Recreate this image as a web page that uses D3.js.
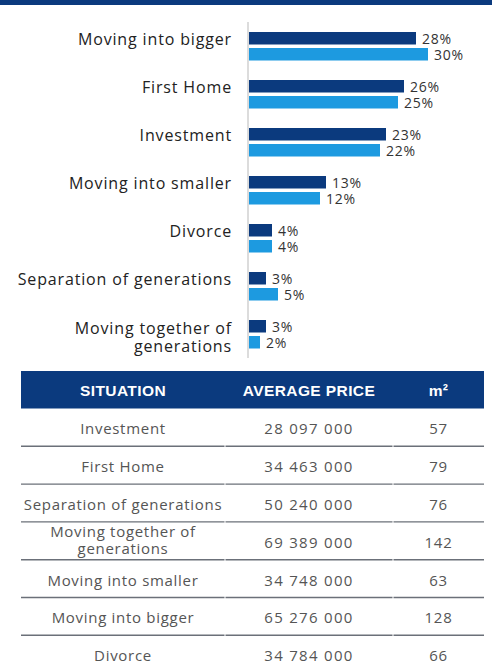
<!DOCTYPE html>
<html>
<head>
<meta charset="utf-8">
<script src="https://cdn.jsdelivr.net/npm/d3@7"></script>
<style>
  html, body { margin: 0; padding: 0; background: #fff; }
  svg { display: block; }
</style>
</head>
<body>
<svg id="chart" width="492" height="661"></svg>
<script>
// Reasons for buying a home: share of buyers, two survey periods
const categories = [
  "Moving into bigger",
  "First Home",
  "Investment",
  "Moving into smaller",
  "Divorce",
  "Separation of generations",
  "Moving together of generations"
];
const seriesNames = ["previous", "current"];
const previousShare = [28, 26, 23, 13, 4, 3, 3];
const currentShare  = [30, 25, 22, 12, 4, 5, 2];

// Table: average price and floor area by buying situation
const tableHeaders = ["SITUATION", "AVERAGE PRICE", "m²"];
const situations = [
  "Investment",
  "First Home",
  "Separation of generations",
  "Moving together of generations",
  "Moving into smaller",
  "Moving into bigger",
  "Divorce"
];
const averagePrices = [28097000, 34463000, 50240000, 69389000, 34748000, 65276000, 34784000];
const areas = [57, 79, 76, 142, 63, 128, 66];

const DARK = "#0b3a7e";
const LIGHT = "#1d9ae0";
const FONT = "'Open Sans', 'DejaVu Sans', sans-serif";

// Some labels are split over two lines
const lineBreaks = {
  "Moving together of generations": ["Moving together of", "generations"]
};

const svg = d3.select("#chart");

// Top brand strip
svg.append("rect")
  .attr("x", 0).attr("y", 0)
  .attr("width", 492).attr("height", 5)
  .attr("fill", DARK);

// ---------- Grouped bar chart ----------
const x = d3.scaleLinear().domain([0, 30]).range([248, 428]);
const y = d3.scaleBand().domain(categories).range([32, 32 + 48 * categories.length]).paddingInner(0);
const ySub = d3.scaleBand().domain(seriesNames).range([0, 28.5]).paddingInner(0.21875);

const rows = categories.map((c, i) => ({
  category: c,
  values: [
    { key: "previous", value: previousShare[i], color: DARK },
    { key: "current", value: currentShare[i], color: LIGHT }
  ]
}));

// Baseline axis
svg.append("line")
  .attr("x1", x(0)).attr("x2", x(0))
  .attr("y1", 22).attr("y2", 358)
  .attr("stroke", "#d0d0d0")
  .attr("stroke-width", 1.5);

const groups = svg.append("g").selectAll("g")
  .data(rows)
  .join("g")
  .attr("transform", d => `translate(0,${y(d.category)})`);

groups.selectAll("rect")
  .data(d => d.values)
  .join("rect")
  .attr("x", x(0) + 1)
  .attr("y", d => ySub(d.key))
  .attr("width", d => x(d.value) - x(0) - 1)
  .attr("height", ySub.bandwidth())
  .attr("fill", d => d.color);

groups.selectAll("text.value")
  .data(d => d.values)
  .join("text")
  .attr("class", "value")
  .attr("x", d => x(d.value) + 6)
  .attr("y", d => ySub(d.key) + ySub.bandwidth() / 2 + 5.5)
  .attr("font-family", FONT)
  .attr("font-size", 14)
  .attr("letter-spacing", 0.8)
  .attr("fill", "#333")
  .text(d => d.value + "%");

// Category labels
groups.each(function (d) {
  const lines = lineBreaks[d.category] || [d.category];
  const t = d3.select(this).append("text")
    .attr("text-anchor", "end")
    .attr("font-family", FONT)
    .attr("font-size", 16)
    .attr("letter-spacing", 0.85)
    .attr("fill", "#222");
  if (lines.length === 1) {
    t.append("tspan").attr("x", 232).attr("y", 13).text(lines[0]);
  } else {
    lines.forEach((l, k) => {
      t.append("tspan").attr("x", 232).attr("y", 14 + k * 18).text(l);
    });
  }
});

// ---------- Table ----------
const colEdges = [21, 225, 393, 484];
const colCenter = i => (colEdges[i] + colEdges[i + 1]) / 2;
const headerTop = 371, headerH = 37.5;
const rowH = 37.8;
const fmtPrice = v => d3.format(",")(v).replace(/,/g, " ");

const table = svg.append("g");

table.append("rect")
  .attr("x", colEdges[0]).attr("y", headerTop)
  .attr("width", colEdges[3] - colEdges[0]).attr("height", headerH)
  .attr("fill", DARK);

table.selectAll("text.head")
  .data(tableHeaders)
  .join("text")
  .attr("class", "head")
  .attr("x", (d, i) => colCenter(i))
  .attr("y", headerTop + headerH / 2 + 6.5)
  .attr("text-anchor", "middle")
  .attr("font-family", "'Liberation Sans', Arial, sans-serif")
  .attr("font-weight", "bold")
  .attr("font-size", 15.5)
  .attr("letter-spacing", 0.4)
  .attr("fill", "#fff")
  .text(d => d);

const tableRows = situations.map((s, i) => ({
  cells: [s, fmtPrice(averagePrices[i]), String(areas[i])],
  top: headerTop + headerH + i * rowH
}));

const tr = table.selectAll("g.row")
  .data(tableRows)
  .join("g")
  .attr("class", "row")
  .attr("transform", d => `translate(0,${d.top})`);

tr.each(function (d) {
  const g = d3.select(this);
  d.cells.forEach((c, i) => {
    const lines = lineBreaks[c] || [c];
    const t = g.append("text")
      .attr("text-anchor", "middle")
      .attr("font-family", FONT)
      .attr("font-size", 15)
      .attr("letter-spacing", i === 1 ? 1.3 : 0.7)
      .attr("fill", "#555");
    if (lines.length === 1) {
      t.append("tspan").attr("x", colCenter(i)).attr("y", rowH / 2 + 7).text(c);
    } else {
      lines.forEach((l, k) => {
        t.append("tspan").attr("x", colCenter(i)).attr("y", 15.5 + k * 16.5).text(l);
      });
    }
  });
  // Row separator, split at column boundaries
  for (let i = 0; i < 3; i++) {
    g.append("line")
      .attr("x1", colEdges[i] + (i ? 0.5 : 0))
      .attr("x2", colEdges[i + 1] - (i < 2 ? 0.5 : 0))
      .attr("y1", rowH).attr("y2", rowH)
      .attr("stroke", "#6b7079")
      .attr("stroke-width", 1.4);
  }
});
</script>
</body>
</html>
